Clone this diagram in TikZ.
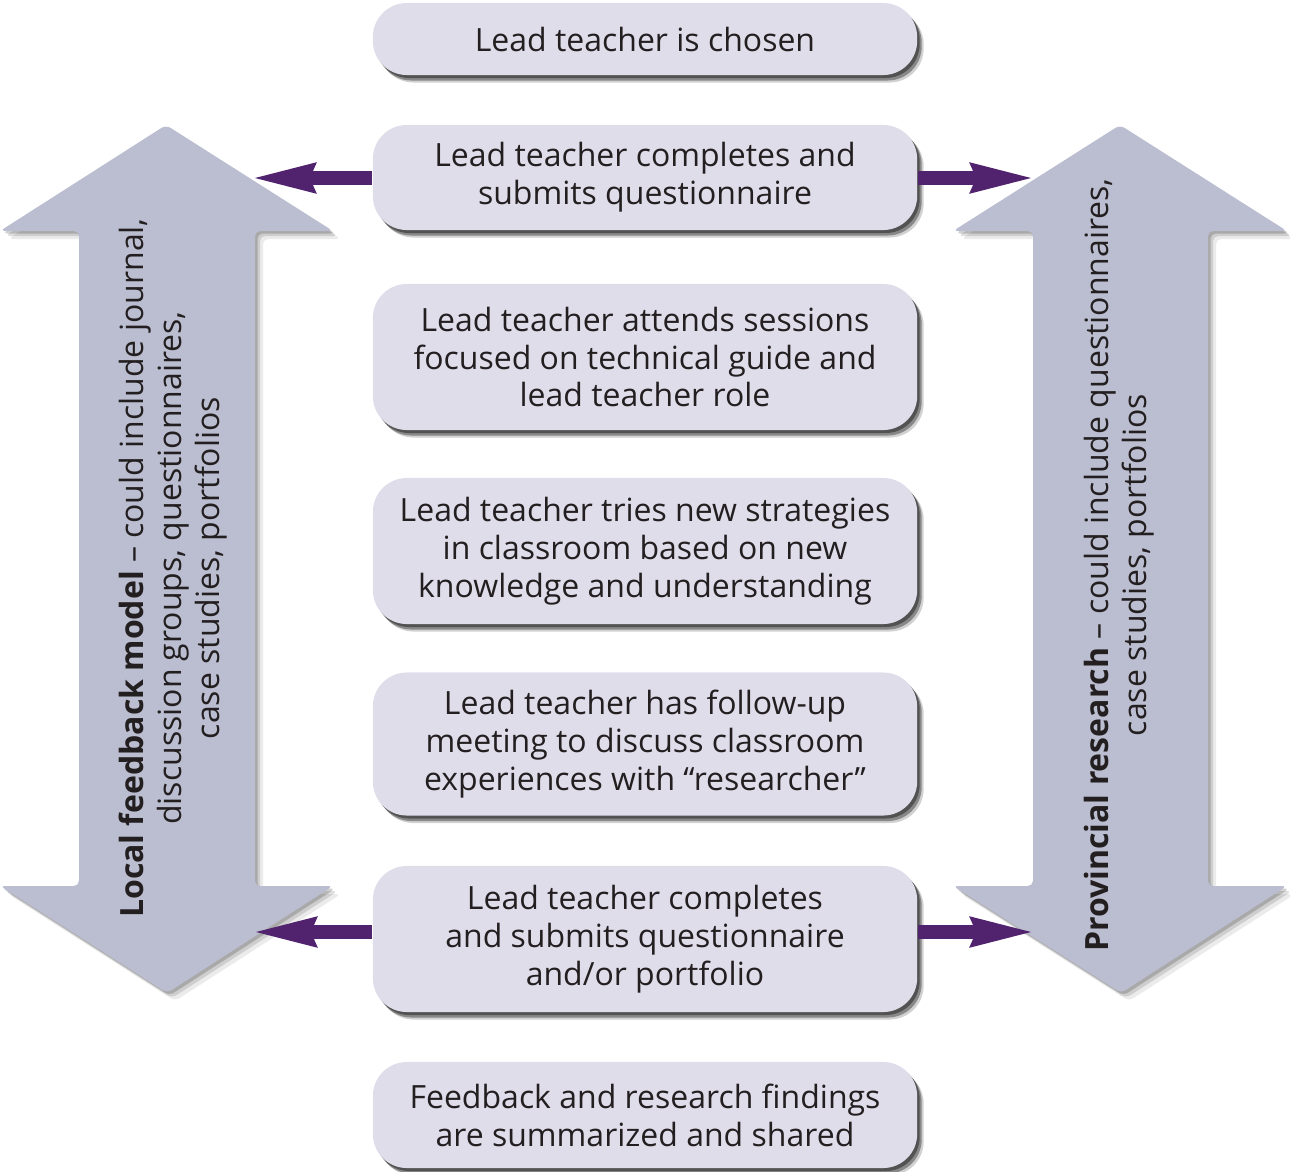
\documentclass[tikz,border=0pt]{standalone}
\usepackage{fontspec}
\setmainfont{Open Sans}
\usetikzlibrary{arrows.meta}
\definecolor{boxfill}{HTML}{E0DDEB}
\definecolor{arrfill}{HTML}{BBBED0}
\definecolor{purp}{HTML}{51236E}
\definecolor{txt}{HTML}{231F20}
\begin{document}
\begin{tikzpicture}[x=0.01cm,y=-0.01cm,
  stepbox/.style={rectangle, rounded corners=0.34cm, fill=boxfill, minimum width=5.44cm,
    inner sep=0pt, align=center, text=txt, font=\fontsize{9.1}{10.8}\selectfont,
    preaction={fill=black, opacity=0.18, transform canvas={shift={(0.065cm,-0.075cm)}}},
    preaction={fill=black, opacity=0.35, transform canvas={shift={(0.045cm,-0.055cm)}}},
    preaction={fill=black, opacity=0.4, transform canvas={shift={(0.025cm,-0.03cm)}}}},
  bigarrow/.style={fill=arrfill, rounded corners=1.5pt,
    preaction={fill=black, opacity=0.08, transform canvas={shift={(0.08cm,-0.08cm)}}},
    preaction={fill=black, opacity=0.12, transform canvas={shift={(0.05cm,-0.05cm)}}},
    preaction={fill=black, opacity=0.18, transform canvas={shift={(0.025cm,-0.025cm)}}}},
  sidetext/.style={rotate=90, align=center, inner sep=0pt, text=txt,
    font=\fontsize{9.1}{10.8}\selectfont},
  purparrow/.style={draw=purp, line width=4pt,
    -{Stealth[length=17.6pt, width=9pt, inset=2pt, line width=0pt]}}
]
\useasboundingbox (0,0) rectangle (1290,1172);

% big double arrows
\path[bigarrow] (166,125) -- (333,231) -- (255,231) -- (255,886) -- (333,886) -- (167,993)
  -- (0,886) -- (79,886) -- (79,231) -- (0,231) -- cycle;
\path[bigarrow] (1120,125) -- (1287,231) -- (1208,231) -- (1208,886) -- (1287,886) -- (1121,993)
  -- (953,886) -- (1033,886) -- (1033,231) -- (953,231) -- cycle;

\node[sidetext] (lt) at (173,568) {\textbf{Local feedback model} – could include journal,\\discussion groups, questionnaires,\\case studies, portfolios};
\node[sidetext] (rt) at (1119,565) {\textbf{Provincial research} – could include questionnaires,\\case studies, portfolios};

% steps
\node[stepbox, minimum height=0.72cm] (b1) at (645,39) {Lead teacher is chosen};
\node[stepbox, minimum height=1.05cm] (b2) at (645,177.5) {Lead teacher completes and\\submits questionnaire};
\node[stepbox, minimum height=1.46cm] (b3) at (645,357) {Lead teacher attends sessions\\focused on technical guide and\\lead teacher role};
\node[stepbox, minimum height=1.46cm] (b4) at (645,551) {Lead teacher tries new strategies\\in classroom based on new\\knowledge and understanding};
\node[stepbox, minimum height=1.43cm] (b5) at (645,744) {Lead teacher has follow-up\\meeting to discuss classroom\\experiences with “researcher”};
\node[stepbox, minimum height=1.46cm] (b6) at (645,939) {Lead teacher completes\\and submits questionnaire\\and/or portfolio};
\node[stepbox, minimum height=1.06cm] (b7) at (645,1115) {Feedback and research findings\\are summarized and shared};

% purple connectors
\coordinate (lt1) at (255,178);
\coordinate (rt1) at (1031,178);
\coordinate (lt2) at (256,932);
\coordinate (rt2) at (1031,932);
\draw[purparrow] (lt1 -| b2.west) -- (lt1);
\draw[purparrow] (rt1 -| b2.east) -- (rt1);
\draw[purparrow] (lt2 -| b6.west) -- (lt2);
\draw[purparrow] (rt2 -| b6.east) -- (rt2);
\end{tikzpicture}
\end{document}
